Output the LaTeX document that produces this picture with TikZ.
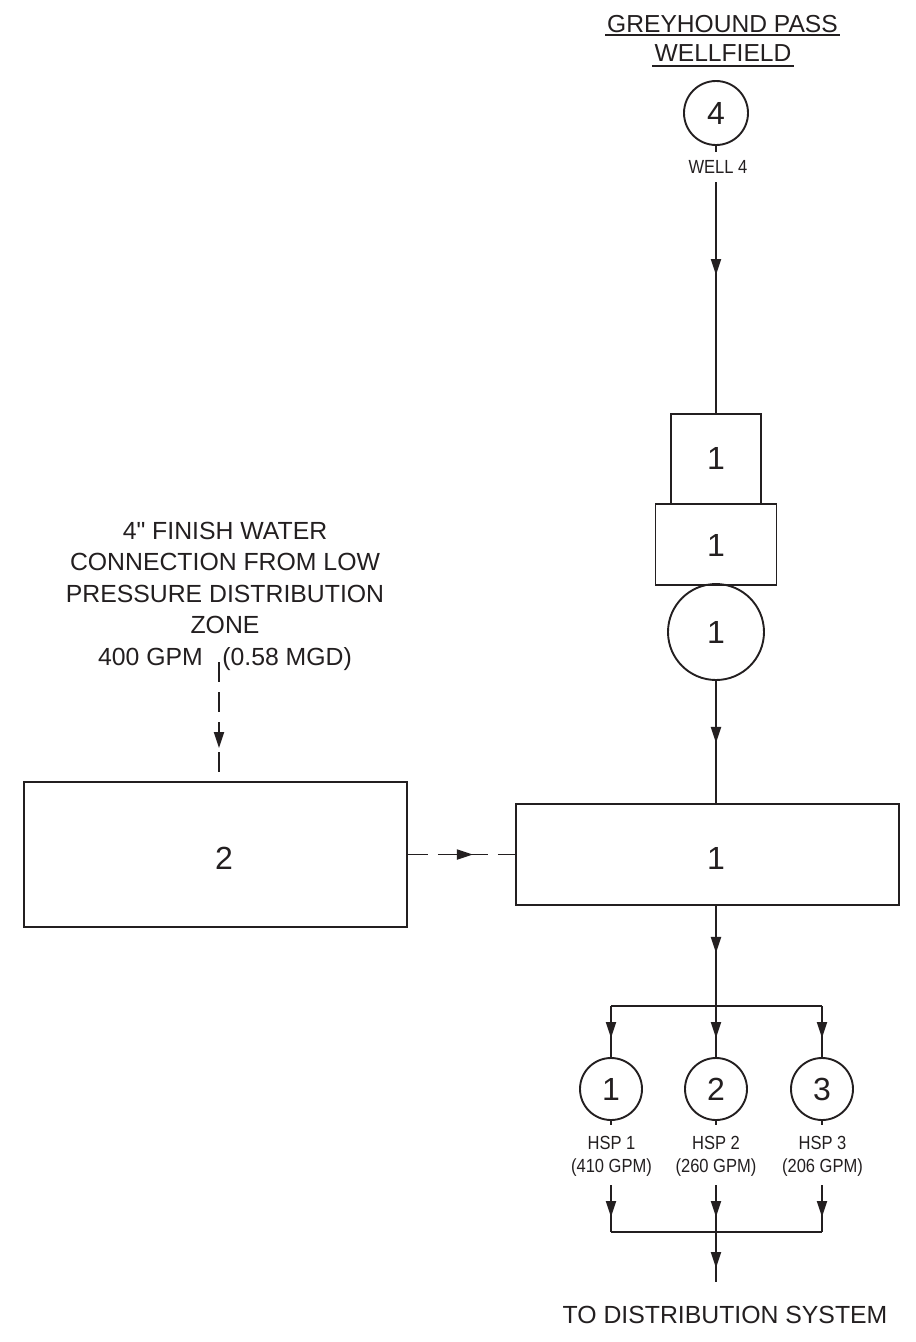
\documentclass[tikz,border=0pt]{standalone}
\usepackage{fontspec}
\setmainfont{Liberation Sans}
\newfontfamily\plainsans{Liberation Sans}
\newfontfamily\narrowfont[FakeStretch=0.87]{Liberation Sans}
\usetikzlibrary{arrows.meta,decorations.markings}
\definecolor{ink}{RGB}{35,31,32}
\tikzset{
  flowtip/.tip={Triangle[length=16pt,width=10pt]},
  pipe/.style={draw=ink, line width=1.9pt},
  dpipe/.style={pipe, dash pattern=on 20pt off 10pt},
  arrowat/.style={postaction={decorate}, decoration={markings, mark=at position #1 with {\arrow{flowtip}}}},
  flowbox/.style={draw=ink, line width=1.9pt, rectangle, inner sep=0pt},
  circ/.style={draw=ink, line width=1.9pt, circle, inner sep=0pt, minimum size=#1, text=ink, font=\plainsans\fontsize{32}{32}\selectfont},
  digit/.style={inner sep=0pt, text=ink, font=\plainsans\fontsize{32}{32}\selectfont},
  maintext/.style={inner sep=0pt, text=ink, font=\plainsans\fontsize{24.8}{31.5}\selectfont},
  titletext/.style={inner sep=0pt, text=ink, font=\plainsans\fontsize{24.6}{30}\selectfont},
  smalltext/.style={inner sep=0pt, text=ink, align=center, font=\narrowfont\fontsize{19}{23}\selectfont},
  ul/.style={draw=ink, line width=1.7pt}
}
\begin{document}
\begin{tikzpicture}[x=1pt, y=-1pt, color=ink]
\useasboundingbox (0,0) rectangle (916,1342);

% title
\node[titletext, anchor=base] (t1) at (722.5,32) {GREYHOUND PASS};
\node[titletext, anchor=base] (t2) at (723,61) {WELLFIELD};
\draw[ul] ([shift={(-2,3)}]t1.base west) -- ([shift={(2,3)}]t1.base east);
\draw[ul] ([shift={(-2,5)}]t2.base west) -- ([shift={(2,5)}]t2.base east);

% well 4
\node[circ=64] (w4) at (716,113) {4};
\coordinate (w4stub) at (716,152);
\draw[pipe] (w4.south) -- (w4stub);
\node[smalltext] (w4lab) at (718,167) {WELL 4};
\coordinate (w4out) at (716,182);

% treatment stack
\node[flowbox, minimum width=90, minimum height=90] (tb) at (716,459) {};
\node[digit] (tblab) at (716,458.5) {1};
\node[flowbox, minimum width=121, minimum height=81] (wb) at (716,544.5) {};
\node[digit] (wblab) at (716,545) {1};
\node[circ=96] (c1) at (716,632) {1};

\draw[pipe, arrowat=93pt] (w4out) -- (w4out |- tb.north);

% main boxes
\node[flowbox, minimum width=383, minimum height=101] (b1) at (707.5,854.5) {};
\node[digit] (b1lab) at (716,858) {1};
\node[flowbox, minimum width=383, minimum height=145] (b2) at (215.5,854.5) {};
\node[digit] (b2lab) at (224,858) {2};

\draw[pipe, arrowat=62pt] (c1.south) -- (c1.south |- b1.north);

% low pressure connection
\node[maintext, align=center] (src) at (225,596) {4" FINISH WATER\\CONNECTION FROM LOW\\PRESSURE DISTRIBUTION\\ZONE\\400 GPM\hspace{19.5pt}(0.58 MGD)};
\coordinate (lpin) at (219,662);
\draw[dpipe, arrowat=86pt] (lpin) -- (lpin |- b2.north);
\draw[dpipe, arrowat=65pt] (b2.east) -- (b1.west);

% distribution to HSPs
\coordinate (bus1) at (716,1006);
\coordinate (bus2) at (716,1232);
\node[circ=62] (h1) at (611,1089) {1};
\node[circ=62] (h2) at (716,1089) {2};
\node[circ=62] (h3) at (822,1089) {3};
\draw[pipe, arrowat=47pt] (b1.south -| bus1) -- (bus1);
\draw[pipe] (h1 |- bus1) -- (h3 |- bus1);
\draw[pipe] (h1 |- bus2) -- (h3 |- bus2);

\node[smalltext] (h1lab) at (611.5,1156) {HSP 1\\(410 GPM)};
\node[smalltext] (h2lab) at (716,1156) {HSP 2\\(260 GPM)};
\node[smalltext] (h3lab) at (822.5,1156) {HSP 3\\(206 GPM)};

\foreach \h in {h1,h2,h3}{
  \draw[pipe, arrowat=32pt] (\h |- bus1) -- (\h.north);
  \coordinate (\h s) at ([yshift=-4pt]\h.south);
  \draw[pipe] (\h.south) -- (\h s);
  \coordinate (\h o) at (\h |- 0,1185);
  \draw[pipe, arrowat=32pt] (\h o) -- (\h o |- bus2);
}

\coordinate (outEnd) at (716,1282);
\draw[pipe, arrowat=36pt] (bus2) -- (outEnd);
\node[maintext, anchor=base] (dest) at (725,1323) {TO DISTRIBUTION SYSTEM};
\end{tikzpicture}
\end{document}
